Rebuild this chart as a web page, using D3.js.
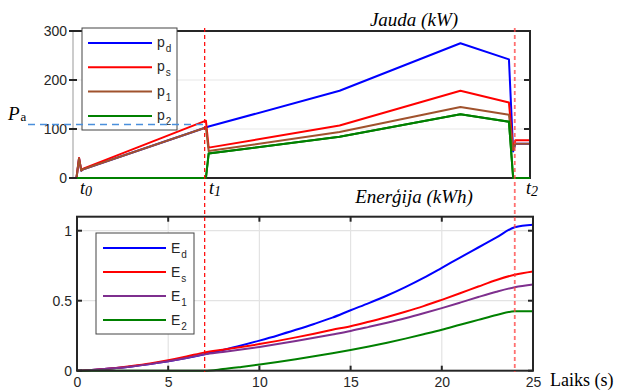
<!DOCTYPE html>
<html><head><meta charset="utf-8">
<script src="https://cdn.jsdelivr.net/npm/d3@7"></script>
<style>
body{margin:0;background:#fff;}
svg{display:block;}
</style></head>
<body>
<svg id="c" width="619" height="390"></svg>
<script>
// ---- data: power (top panel) ----
const tP  = [0, 0.03, 0.17, 0.29, 0.4, 7.1, 7.25, 14.4, 21.0, 23.65, 23.88, 24.0, 24.8];
const pD  = [0, 0, 40, 15, 18, 103, 105, 178, 275, 242, 54, 70, 70];
const pS  = [0, 0, 41, 16, 19, 117, 62, 107, 178, 154, 57, 77, 77];
const p1  = [0, 0, 40, 15, 18, 103, 55, 94, 145, 129, 57, 70, 70];
const p2  = [0, 0, 0, 0, 0, 0, 50, 84, 130, 115, 0, 0, 0];
const Pa = 109;
// ---- data: energy (bottom panel) ----
const tE = [0,1,2,3,4,5,6,7,8,9,10,11,12,13,14,15,16,17,18,19,20,21,22,23,24,25];
const eD = [0,0.007,0.017,0.030,0.047,0.067,0.091,0.118,0.148,0.180,0.215,0.252,0.292,0.334,0.379,0.432,0.483,0.537,0.597,0.663,0.735,0.808,0.880,0.952,1.025,1.043];
const eS = [0,0.007,0.018,0.033,0.051,0.074,0.101,0.131,0.150,0.169,0.190,0.213,0.238,0.264,0.292,0.318,0.350,0.384,0.421,0.461,0.506,0.553,0.601,0.648,0.686,0.709];
const e1 = [0,0.007,0.017,0.030,0.047,0.067,0.091,0.118,0.134,0.151,0.170,0.190,0.212,0.235,0.259,0.284,0.313,0.343,0.375,0.410,0.447,0.486,0.526,0.564,0.596,0.615];
const e2 = [0,0,0,0,0,0,0,0,0.0115,0.027,0.044,0.062,0.082,0.103,0.125,0.148,0.173,0.200,0.229,0.260,0.292,0.328,0.363,0.398,0.424,0.424];
const tMarks = [7, 24];
const topTicks = [0,100,200,300];
const botXTicks = [0,5,10,15,20,25];
const botYTicks = [0,0.5,1];

const C = {blue:"#0000ff", red:"#ff0000", brown:"#a0522d", green:"#008000", purple:"#7e2f8e"};
const topSeries = [
  {name:"p", sub:"d", v:pD, c:C.blue},
  {name:"p", sub:"s", v:pS, c:C.red},
  {name:"p", sub:"1", v:p1, c:C.brown},
  {name:"p", sub:"2", v:p2, c:C.green}
];
const botSeries = [
  {name:"E", sub:"d", v:eD, c:C.blue},
  {name:"E", sub:"s", v:eS, c:C.red},
  {name:"E", sub:"1", v:e1, c:C.purple},
  {name:"E", sub:"2", v:e2, c:C.green}
];

const svg = d3.select("#c");
const sans = "Liberation Sans, Arial, Helvetica, sans-serif";
const serif = "Liberation Serif, Times New Roman, serif";
const txt = "#262626";

// scales
const xT = d3.scaleLinear().domain([-0.16, 24.8]).range([73, 530]);
const yT = d3.scaleLinear().domain([0, 300]).range([178, 31]);
const xB = d3.scaleLinear().domain([0, 25]).range([77, 533]);
const yB = d3.scaleLinear().domain([0, 1.1]).range([370.7, 216.7]);

// ---------- TOP PANEL ----------
const gT = svg.append("g");
gT.selectAll("line.g").data([100,200]).join("line")
  .attr("x1", xT.range()[0]).attr("x2", xT.range()[1])
  .attr("y1", d=>yT(d)).attr("y2", d=>yT(d))
  .attr("stroke","#e8e8e8").attr("stroke-width",1.2);

const lineT = d3.line().x((d,i)=>xT(tP[i])).y(d=>yT(d));
topSeries.forEach(s=>{
  gT.append("path").attr("d", lineT(s.v)).attr("fill","none")
    .attr("stroke", s.c).attr("stroke-width",2).attr("stroke-linejoin","round");
});

// frame
gT.append("line").attr("x1",xT.range()[0]).attr("x2",xT.range()[0]).attr("y1",yT(300)).attr("y2",yT(0)).attr("stroke","#999").attr("stroke-width",1);
gT.append("line").attr("x1",xT.range()[0]-1).attr("x2",xT.range()[1]+1).attr("y1",yT(300)).attr("y2",yT(300)).attr("stroke",txt).attr("stroke-width",2);
gT.append("line").attr("x1",xT(0)).attr("x2",xT.range()[1]+1).attr("y1",yT(0)).attr("y2",yT(0)).attr("stroke",txt).attr("stroke-width",2);
gT.append("line").attr("x1",xT.range()[1]).attr("x2",xT.range()[1]).attr("y1",yT(300)).attr("y2",yT(0)).attr("stroke",txt).attr("stroke-width",2);
gT.append("path").attr("d", lineT(p2)).attr("fill","none").attr("stroke",C.green).attr("stroke-width",2);

const axL = d3.axisLeft(yT).tickValues(topTicks).tickSize(0).tickPadding(6);
const gL = gT.append("g").attr("transform",`translate(${xT.range()[0]},0)`).call(axL);
gL.select(".domain").remove();
gL.selectAll("text").attr("font-family",sans).attr("font-size",14).attr("fill",txt);
gT.selectAll("line.lt").data(topTicks).join("line")
  .attr("x1",xT.range()[0]-4).attr("x2",xT.range()[0]+4)
  .attr("y1",d=>yT(d)).attr("y2",d=>yT(d)).attr("stroke",txt).attr("stroke-width",2);
gT.selectAll("line.rt").data([100,200]).join("line")
  .attr("x1",xT.range()[1]-6).attr("x2",xT.range()[1])
  .attr("y1",d=>yT(d)).attr("y2",d=>yT(d)).attr("stroke",txt).attr("stroke-width",2);

// legend top
const lgT = gT.append("g");
lgT.append("rect").attr("x",82).attr("y",28).attr("width",95).attr("height",102)
  .attr("fill","#fff").attr("stroke","#444").attr("stroke-width",1);
topSeries.forEach((s,i)=>{
  const yy = 43 + i*24.3;
  lgT.append("line").attr("x1",88).attr("x2",152).attr("y1",yy).attr("y2",yy).attr("stroke",s.c).attr("stroke-width",2);
  const t = lgT.append("text").attr("x",157).attr("y",yy+4).attr("font-family",sans).attr("font-size",14).attr("fill",txt);
  t.append("tspan").text(s.name);
  t.append("tspan").attr("dx",1).attr("dy",5).attr("font-size",10).text(s.sub);
});

// Pa dashed line
gT.append("line").attr("x1",28).attr("x2",xT(7)).attr("y1",yT(Pa)).attr("y2",yT(Pa))
  .attr("stroke","#4a8fdc").attr("stroke-width",1.5).attr("stroke-dasharray","7,5");
const pa = gT.append("text").attr("x",8).attr("y",120).attr("font-family",serif).attr("font-size",19).attr("fill","#000");
pa.append("tspan").attr("font-style","italic").text("P");
pa.append("tspan").attr("dx",1).attr("dy",1).attr("font-size",13).text("a");

gT.append("text").attr("x",414).attr("y",26).attr("text-anchor","middle").attr("font-family",serif)
  .attr("font-style","italic").attr("font-size",19).attr("fill","#000").text("Jauda (kW)");

[["0",80],["1",209],["2",526]].forEach(([s,x])=>{
  const t = gT.append("text").attr("x",x).attr("y",194).attr("font-family",serif).attr("font-style","italic").attr("font-size",18).attr("fill","#000");
  t.append("tspan").text("t");
  t.append("tspan").attr("dy",2).attr("font-size",14).text(s);
});

// ---------- BOTTOM PANEL ----------
const gB = svg.append("g");
gB.selectAll("line.gx").data(botXTicks.slice(1,-1)).join("line")
  .attr("x1",d=>xB(d)).attr("x2",d=>xB(d)).attr("y1",yB(1.1)).attr("y2",yB(0))
  .attr("stroke","#e3e3e3").attr("stroke-width",1.2);
gB.selectAll("line.gy").data([0.5,1]).join("line")
  .attr("x1",xB(0)).attr("x2",xB(25)).attr("y1",d=>yB(d)).attr("y2",d=>yB(d))
  .attr("stroke","#e3e3e3").attr("stroke-width",1.2);

const lineB = d3.line().x((d,i)=>xB(tE[i])).y(d=>yB(d)).curve(d3.curveMonotoneX);
botSeries.forEach(s=>{
  gB.append("path").attr("d", lineB(s.v)).attr("fill","none")
    .attr("stroke", s.c).attr("stroke-width",2);
});

gB.append("rect").attr("x",xB(0)).attr("y",yB(1.1)).attr("width",xB(25)-xB(0)).attr("height",yB(0)-yB(1.1))
  .attr("fill","none").attr("stroke",txt).attr("stroke-width",2);
gB.selectAll("line.bx").data(botXTicks).join("line")
  .attr("x1",d=>xB(d)).attr("x2",d=>xB(d)).attr("y1",yB(0)-5).attr("y2",yB(0)).attr("stroke",txt).attr("stroke-width",2);
gB.selectAll("line.tx").data(botXTicks).join("line")
  .attr("x1",d=>xB(d)).attr("x2",d=>xB(d)).attr("y1",yB(1.1)).attr("y2",yB(1.1)+5).attr("stroke",txt).attr("stroke-width",2);
gB.selectAll("line.ly").data(botYTicks).join("line")
  .attr("x1",xB(0)).attr("x2",xB(0)+5).attr("y1",d=>yB(d)).attr("y2",d=>yB(d)).attr("stroke",txt).attr("stroke-width",2);
gB.selectAll("line.ry").data(botYTicks).join("line")
  .attr("x1",xB(25)-5).attr("x2",xB(25)).attr("y1",d=>yB(d)).attr("y2",d=>yB(d)).attr("stroke",txt).attr("stroke-width",2);

const axBX = d3.axisBottom(xB).tickValues(botXTicks).tickSize(0).tickPadding(6).tickFormat(d3.format("d"));
const gBX = gB.append("g").attr("transform",`translate(0,${yB(0)})`).call(axBX);
gBX.select(".domain").remove();
gBX.selectAll("text").attr("font-family",sans).attr("font-size",14).attr("fill",txt);
const axBY = d3.axisLeft(yB).tickValues(botYTicks).tickSize(0).tickPadding(5).tickFormat(d=>d===0.5?"0.5":d3.format("d")(d));
const gBY = gB.append("g").attr("transform",`translate(${xB(0)},0)`).call(axBY);
gBY.select(".domain").remove();
gBY.selectAll("text").attr("font-family",sans).attr("font-size",14).attr("fill",txt);

const lgB = gB.append("g");
lgB.append("rect").attr("x",96).attr("y",233).attr("width",98).attr("height",101)
  .attr("fill","#fff").attr("stroke","#444").attr("stroke-width",1);
botSeries.forEach((s,i)=>{
  const yy = 248 + i*24;
  lgB.append("line").attr("x1",103).attr("x2",166).attr("y1",yy).attr("y2",yy).attr("stroke",s.c).attr("stroke-width",2);
  const t = lgB.append("text").attr("x",171).attr("y",yy+5).attr("font-family",sans).attr("font-size",14).attr("fill",txt);
  t.append("tspan").text(s.name);
  t.append("tspan").attr("dx",1).attr("dy",5).attr("font-size",10).text(s.sub);
});

gB.append("text").attr("x",414).attr("y",203).attr("text-anchor","middle").attr("font-family",serif)
  .attr("font-style","italic").attr("font-size",19).attr("fill","#000").text("Enerģija (kWh)");
gB.append("text").attr("x",550).attr("y",386).attr("font-family",serif)
  .attr("font-size",18).attr("fill","#000").text("Laiks (s)");

// red dashed time markers
svg.append("line").attr("x1",xB(tMarks[0])).attr("x2",xB(tMarks[0])).attr("y1",28).attr("y2",372)
  .attr("stroke","#ff0000").attr("stroke-width",1.2).attr("stroke-dasharray","4,3");
svg.append("line").attr("x1",xB(tMarks[1])).attr("x2",xB(tMarks[1])).attr("y1",28).attr("y2",372)
  .attr("stroke","#ff4040").attr("stroke-opacity",0.75).attr("stroke-width",1.8).attr("stroke-dasharray","4,3");
</script>
</body></html>
